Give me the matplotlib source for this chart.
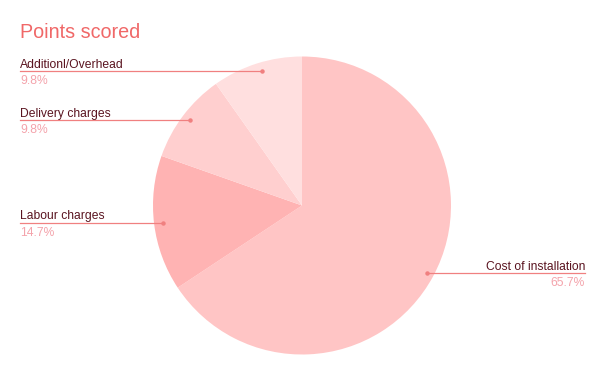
import matplotlib

matplotlib.use("Agg")
import matplotlib.pyplot as plt

# data
labels = ["Cost of installation", "Labour charges", "Delivery charges", "Additionl/Overhead"]
values = [65.7, 14.7, 9.8, 9.8]
pct_text = ["65.7%", "14.7%", "9.8%", "9.8%"]
colors = ["#ffc5c5", "#ffb3b3", "#ffcfcf", "#ffdfdf"]

W, H = 606, 376
plt.rcParams["font.family"] = ["Liberation Sans", "DejaVu Sans"]

fig = plt.figure(figsize=(W / 100, H / 100), dpi=100)
ax = fig.add_axes([0, 0, 1, 1])


def py(y):
    return H - y


cx, cy, r = 302, 205.5, 149
ax.pie(values, colors=colors, startangle=90, counterclock=False,
       center=(cx, py(cy)), radius=r, frame=True,
       wedgeprops=dict(linewidth=0))
ax.set_xlim(0, W)
ax.set_ylim(0, H)
ax.set_aspect("equal")
ax.axis("off")

ax.text(20, py(33), "Points scored", fontsize=14.2, color="#f06868",
        ha="left", va="center")

line_c = "#f08080"
name_c = "#5a1420"
pct_c = "#f4a3ab"
fs = 8.7

# left side labels: (label index, line y, line end x)
left = [(3, 71, 262), (2, 120, 190), (1, 223, 163)]
for i, ly, ex in left:
    ax.plot([20, ex], [py(ly), py(ly)], color=line_c, lw=0.9)
    ax.plot([ex], [py(ly)], "o", color=line_c, ms=2.2)
    ax.text(20, py(ly - 3.5), labels[i], fontsize=fs, color=name_c, ha="left", va="baseline")
    ax.text(20, py(ly + 4), pct_text[i], fontsize=fs, color=pct_c, ha="left", va="top")

# right side label
ly = 273
ax.plot([427, 585], [py(ly), py(ly)], color=line_c, lw=0.9)
ax.plot([427], [py(ly)], "o", color=line_c, ms=2.2)
ax.text(585, py(ly - 3.5), labels[0], fontsize=fs, color=name_c, ha="right", va="baseline")
ax.text(585, py(ly + 4), pct_text[0], fontsize=fs, color=pct_c, ha="right", va="top")

fig.savefig("out.png", dpi=100, facecolor="white")
